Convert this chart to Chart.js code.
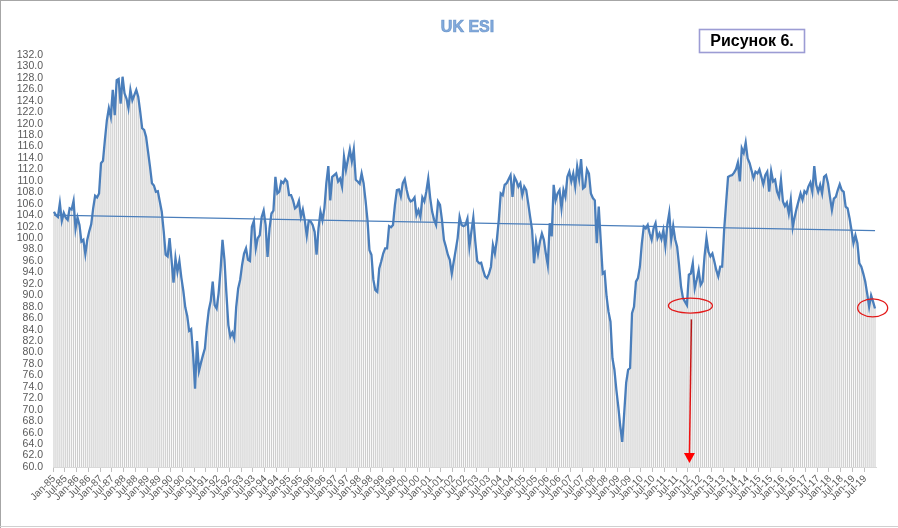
<!DOCTYPE html>
<html><head><meta charset="utf-8">
<script src="https://cdn.jsdelivr.net/npm/chart.js@4"></script>
<style>html,body{margin:0;padding:0;background:#fff;overflow:hidden}canvas{display:block}</style>
</head><body>
<canvas id="c" width="898" height="528"></canvas>
<script>
// ---- data (UK ESI, monthly, Jan-85 .. Dec-19) ----
const firstYear = 1985;
const monthAbbr = ['Jan','Feb','Mar','Apr','May','Jun','Jul','Aug','Sep','Oct','Nov','Dec'];

const esi1985to1991 = [
104.6,104.0,103.7,106.1,103.0,104.4,103.6,103.2,105.2,105.0,
106.5,101.6,103.6,102.3,99.4,99.7,97.2,99.7,101.2,102.4,
105.2,107.4,107.1,107.8,113.1,113.5,117.2,120.6,122.7,121.2,
125.9,121.5,127.6,127.8,123.5,128.2,125.3,124.4,122.7,125.9,
124.1,125.0,125.9,124.7,122.1,119.2,118.9,117.7,115.1,112.5,
109.6,109.2,108.1,108.2,106.4,104.6,101.2,97.1,96.8,100.0,
96.2,92.2,96.5,94.1,96.0,93.1,90.8,87.9,86.4,83.8,
84.1,79.7,73.7,82.0,76.8,78.2,79.5,80.7,84.5,87.4];

const esi1991to1998 = [
89.0,92.4,88.3,87.7,90.3,94.4,99.7,96.2,90.3,84.8,
82.8,83.5,82.5,88.0,91.2,92.7,95.3,97.3,98.2,96.2,
96.0,102.0,103.0,98.2,100.0,100.5,103.7,104.8,102.3,96.7,
101.7,104.3,104.8,110.7,107.8,108.1,109.9,109.6,110.3,109.9,
107.5,107.5,106.6,105.2,105.5,106.5,103.7,105.0,103.1,100.4,
103.0,102.9,102.3,101.1,97.1,101.7,104.6,103.1,105.2,109.6,
112.6,106.6,110.7,111.0,111.3,109.9,110.4,109.0,114.2,111.9,
113.7,115.5,113.4,115.5,110.2,109.9,109.5,111.3,109.6,106.6,
103.1,97.9,97.1,92.7,90.9,90.6];

const esi1998to2005 = [
94.7,95.9,97.3,98.2,98.2,102.1,101.9,102.3,105.8,108.4,
108.5,107.3,109.6,110.3,108.4,107.0,106.4,106.6,107.1,104.0,
104.9,103.7,107.1,106.4,108.1,110.4,107.0,104.6,103.2,102.3,
106.4,105.8,103.2,99.7,98.5,97.1,96.2,93.8,95.9,97.9,100.0,
103.7,102.3,102.1,102.3,103.4,98.5,101.1,103.6,99.4,96.0,
95.6,95.7,94.4,93.3,93.0,93.8,95.0,98.8,97.3,99.7,
103.2,107.8,107.5,109.3,109.6,110.3,111.0,107.2,110.7,110.0,
109.0,109.6,107.5,109.0,108.4,106.1,103.7,101.4,95.6,99.4,
97.3,99.4];

const esi2005to2009 = [
100.8,99.7,97.3,95.3,102.6,100.3,109.3,106.6,107.8,108.4,
105.2,108.4,107.2,110.7,111.6,109.9,111.3,109.0,112.5,110.4,
113.8,108.7,109.0,112.0,111.3,107.8,107.0,106.6,99.1,105.5,
99.7,93.8,94.1,89.8,87.1,85.4,79.0,77.0,73.5,70.5,
67.1,64.4];

const esi2009to2012 = [
69.4,74.7,77.0,77.3,86.9,88.0,92.4,93.0,95.0,99.1,
102.0,101.7,102.3,100.8,99.7,101.7,102.6,100.0,100.8,99.8,
101.4,98.6,102.3,104.4,99.7,102.1,99.8,98.5,95.3,91.5,
89.5,88.9,88.3,93.6,93.8,95.6,91.2,92.7,94.4];

const esi2012to2019 = [
91.8,92.4,96.8,100.0,97.6,96.8,97.3,95.9,94.4,93.3,
95.0,95.0,101.4,106.1,110.7,110.9,111.0,111.4,112.0,113.2,
109.9,115.7,114.9,116.7,113.9,113.1,111.8,110.5,111.6,111.3,
112.0,110.7,109.4,111.0,111.6,108.1,111.7,109.9,110.2,108.1,
107.2,110.2,106.4,105.6,106.2,104.3,106.7,101.9,103.7,105.2,
106.5,107.8,106.7,108.2,107.8,109.0,109.7,108.1,112.6,109.3,
108.1,109.3,107.8,110.7,111.0,109.6,107.2,104.9,106.9,107.2,
108.4,109.4,108.4,108.1,105.5,105.2,103.5,101.4,99.1,100.5,
99.1,95.6,95.0,93.8,92.4,90.3,88.0,90.0,88.9,87.7];

// linear trend line end values
const trendFirst = 104.0;
const trendLast = 101.3;

// axis
const yMin = 60, yMax = 132, yStep = 2;
const labelEvery = 6;

// ---- build ----
const esi = [].concat(esi1985to1991, esi1991to1998, esi1998to2005, esi2005to2009, esi2009to2012, esi2012to2019);
const categories = esi.map((_, i) => monthAbbr[i % 12] + '-' + String((firstYear + Math.floor(i / 12)) % 100).padStart(2, '0'));
const trend = esi.map((_, i) => i === 0 ? trendFirst : (i === esi.length - 1 ? trendLast : null));

const TXT = '#595959';
const FONT = 'Liberation Sans';

const overlay = {
  id: 'overlay',
  afterDatasetsDraw(chart) {
    const {ctx, scales: {x, y}} = chart;
    ctx.save();
    // red ellipses
    ctx.strokeStyle = '#e31a1a';
    ctx.lineWidth = 1.3;
    const ellipses = [[324.8, 88.2, 22, 7.5], [417.8, 87.8, 15, 9]];
    for (const [i, v, rx, ry] of ellipses) {
      ctx.beginPath();
      ctx.ellipse(x.getPixelForValue(i), y.getPixelForValue(v), rx, ry, 0, 0, Math.PI * 2);
      ctx.stroke();
    }
    // red arrow
    const x0 = x.getPixelForValue(325.3), y0 = y.getPixelForValue(85.8);
    const x1 = x.getPixelForValue(324.3), y1 = y.getPixelForValue(60.7);
    const g = ctx.createLinearGradient(0, y0, 0, y1);
    g.addColorStop(0, '#b01818'); g.addColorStop(1, '#ff1010');
    ctx.strokeStyle = g; ctx.lineWidth = 1.5;
    ctx.beginPath(); ctx.moveTo(x0, y0); ctx.lineTo(x1, y1 - 8); ctx.stroke();
    ctx.fillStyle = '#ff0000';
    ctx.beginPath(); ctx.moveTo(x1, y1); ctx.lineTo(x1 - 5.5, y1 - 10); ctx.lineTo(x1 + 5.5, y1 - 10); ctx.closePath(); ctx.fill();
    ctx.restore();
  },
  afterDraw(chart) {
    const ctx = chart.ctx;
    ctx.save();
    // frame
    ctx.strokeStyle = '#a6a6a6'; ctx.lineWidth = 1;
    ctx.beginPath(); ctx.moveTo(0, 0.5); ctx.lineTo(898, 0.5); ctx.moveTo(0.5, 0); ctx.lineTo(0.5, 528); ctx.stroke();
    ctx.strokeStyle = '#d0d0d0';
    ctx.beginPath(); ctx.moveTo(0, 526.5); ctx.lineTo(898, 526.5); ctx.stroke();
    // title
    ctx.font = 'bold 16px "' + FONT + '"';
    ctx.textAlign = 'center'; ctx.textBaseline = 'middle';
    ctx.fillStyle = '#86acdd';
    ctx.fillText('UK ESI', 467.5, 28);
    ctx.strokeStyle = 'rgba(79,129,189,0.7)'; ctx.lineWidth = 0.7;
    ctx.strokeText('UK ESI', 467.5, 28);
    // figure label box
    ctx.fillStyle = '#ffffff';
    ctx.fillRect(699.5, 29.5, 105, 23);
    ctx.strokeStyle = '#9c9cd4'; ctx.lineWidth = 1.6;
    ctx.strokeRect(699.5, 29.5, 105, 23);
    ctx.fillStyle = '#000000';
    ctx.font = 'bold 16px "' + FONT + '"';
    ctx.fillText('Рисунок 6.', 752, 41.5);
    ctx.restore();
  }
};

new Chart(document.getElementById('c'), {
  type: 'bar',
  data: {
    labels: categories,
    datasets: [
      { type: 'line', data: trend, spanGaps: true, borderColor: '#4a7ebb', borderWidth: 1.2, pointRadius: 0, order: 0 },
      { type: 'line', data: esi, borderColor: '#4a7ebb', borderWidth: 2.3, pointRadius: 0, tension: 0, order: 1 },
      { type: 'bar', data: esi, backgroundColor: '#cdcdcd', borderWidth: 0, barPercentage: 0.55, categoryPercentage: 1, order: 3 }
    ]
  },
  options: {
    responsive: false,
    animation: false,
    devicePixelRatio: 1,
    layout: { padding: { top: 55, right: 22, bottom: 0, left: 0 } },
    plugins: { legend: { display: false }, tooltip: { enabled: false }, title: { display: false } },
    scales: {
      x: {
        offset: true,
        grid: {
          offset: true, drawOnChartArea: false, drawTicks: true, tickLength: 5,
          color: c => (c.index % labelEvery === 0 ? '#bfbfbf' : 'rgba(0,0,0,0)')
        },
        border: { display: true, color: '#d9d9d9' },
        ticks: {
          autoSkip: false, maxRotation: 45, minRotation: 45, padding: 1,
          color: TXT, font: { family: FONT, size: 10 },
          callback: (v, i) => (i % labelEvery === 0 ? categories[i] : '')
        },
        afterFit: s => { s.height = 61; }
      },
      y: {
        min: yMin, max: yMax,
        grid: { display: false, drawTicks: false },
        border: { display: false },
        ticks: { stepSize: yStep, autoSkip: false, padding: 10, color: TXT, font: { family: FONT, size: 10.5 }, callback: v => Number(v).toFixed(1) },
        afterFit: s => { s.width = 53; }
      }
    }
  },
  plugins: [overlay]
});
</script>
</body></html>
